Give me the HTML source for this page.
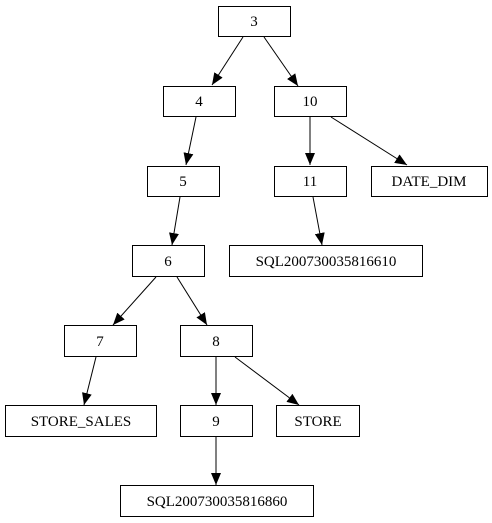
<!DOCTYPE html>
<html><head><style>body{margin:0;background:#fff}svg{display:block}text{font-family:"Liberation Serif",serif;font-size:15px}</style></head><body>
<svg width="492" height="523" xmlns="http://www.w3.org/2000/svg">
<defs><marker id="a" markerWidth="12" markerHeight="10" refX="12" refY="5" orient="auto" markerUnits="userSpaceOnUse"><path d="M0,0 L12,5 L0,10 z" fill="#000"/></marker></defs>
<g fill="#fff" stroke="#000" stroke-width="1">
<rect x="218.5" y="6.5" width="72" height="30"/>
<rect x="163.5" y="86.5" width="72" height="30"/>
<rect x="274.5" y="86.5" width="72" height="30"/>
<rect x="147.5" y="166.5" width="72" height="30"/>
<rect x="274.5" y="166.5" width="72" height="30"/>
<rect x="371.5" y="166.5" width="116" height="30"/>
<rect x="132.5" y="245.5" width="72" height="31"/>
<rect x="229.5" y="245.5" width="193" height="31"/>
<rect x="64.5" y="325.5" width="72" height="31"/>
<rect x="180.5" y="325.5" width="72" height="31"/>
<rect x="5.5" y="405.5" width="151" height="31"/>
<rect x="180.5" y="405.5" width="72" height="31"/>
<rect x="276.5" y="405.5" width="83" height="31"/>
<rect x="120.5" y="485.5" width="193" height="31"/>
</g>
<g stroke="#000" stroke-width="1" marker-end="url(#a)">
<line x1="243" y1="37" x2="212" y2="85"/>
<line x1="264" y1="37" x2="298" y2="86"/>
<line x1="196" y1="117" x2="186" y2="165"/>
<line x1="310" y1="117" x2="310" y2="165"/>
<line x1="331" y1="117" x2="407" y2="165"/>
<line x1="313" y1="197" x2="322" y2="245"/>
<line x1="180" y1="197" x2="172" y2="245"/>
<line x1="156" y1="277" x2="113" y2="325"/>
<line x1="177" y1="277" x2="207" y2="325"/>
<line x1="96" y1="357" x2="84" y2="405"/>
<line x1="216" y1="357" x2="216" y2="405"/>
<line x1="235" y1="357" x2="299" y2="405"/>
<line x1="216" y1="437" x2="216" y2="485"/>
</g>
<g text-anchor="middle" fill="#000">
<text x="254" y="26">3</text>
<text x="199" y="106">4</text>
<text x="310" y="106">10</text>
<text x="183" y="186">5</text>
<text x="310" y="186">11</text>
<text x="429" y="186">DATE_DIM</text>
<text x="168" y="266">6</text>
<text x="326" y="266">SQL200730035816610</text>
<text x="100" y="346">7</text>
<text x="216" y="346">8</text>
<text x="81" y="426">STORE_SALES</text>
<text x="216" y="426">9</text>
<text x="318" y="426">STORE</text>
<text x="217" y="506">SQL200730035816860</text>
</g>
</svg>
</body></html>
